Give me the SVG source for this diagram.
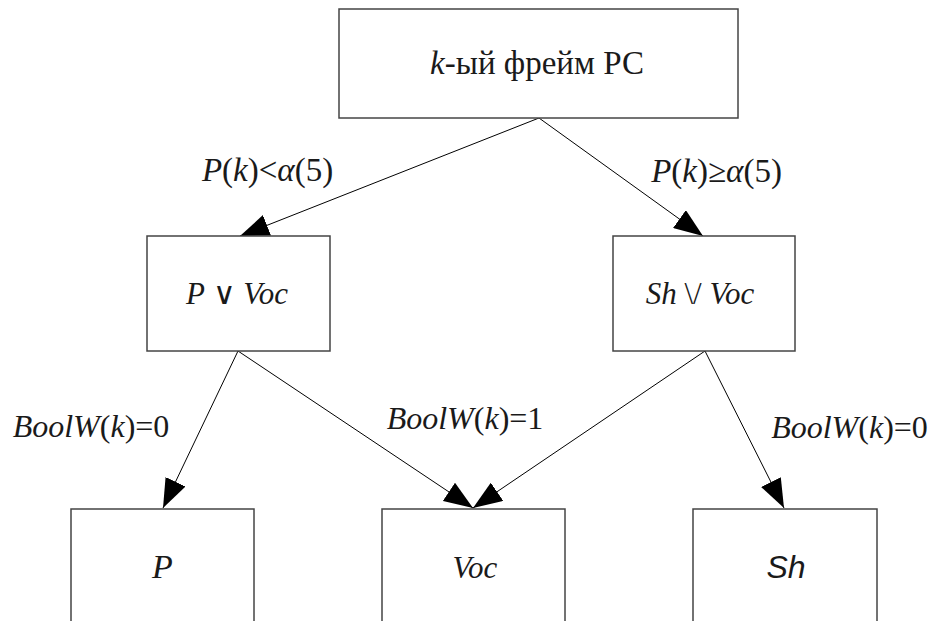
<svg xmlns="http://www.w3.org/2000/svg" width="935" height="621" viewBox="0 0 935 621">
<defs>
<marker id="ah" markerUnits="userSpaceOnUse" markerWidth="30" markerHeight="22" refX="29" refY="11" orient="auto">
<path d="M0,0 L29,11 L0,22 Z" fill="#000"/>
</marker>
</defs>
<rect width="935" height="621" fill="#fff"/>
<g id="connectors" stroke="#000" stroke-width="1" fill="none">
<line x1="539" y1="118" x2="240" y2="236" marker-end="url(#ah)"/>
<line x1="539" y1="118" x2="703" y2="236" marker-end="url(#ah)"/>
<line x1="238" y1="351" x2="163" y2="508" marker-end="url(#ah)"/>
<line x1="238" y1="351" x2="473" y2="508" marker-end="url(#ah)"/>
<line x1="705" y1="351" x2="473" y2="508" marker-end="url(#ah)"/>
<line x1="705" y1="351" x2="784" y2="508" marker-end="url(#ah)"/>
</g>
<g id="labels" fill="#1a1a1a">
<text x="267.5" y="181" text-anchor="middle" font-size="33" font-family="'Liberation Serif'"><tspan font-style="italic">P</tspan>(<tspan font-style="italic">k</tspan>)&lt;<tspan font-style="italic">α</tspan>(5)</text>
<text x="716.5" y="182" text-anchor="middle" font-size="33" font-family="'Liberation Serif'"><tspan font-style="italic">P</tspan>(<tspan font-style="italic">k</tspan>)≥<tspan font-style="italic">α</tspan>(5)</text>
<text x="91" y="437" text-anchor="middle" font-size="32" font-family="'Liberation Serif'"><tspan font-style="italic">BoolW</tspan>(<tspan font-style="italic">k</tspan>)=0</text>
<text x="465" y="429" text-anchor="middle" font-size="32" font-family="'Liberation Serif'"><tspan font-style="italic">BoolW</tspan>(<tspan font-style="italic">k</tspan>)=1</text>
<text x="849.5" y="438" text-anchor="middle" font-size="32" font-family="'Liberation Serif'"><tspan font-style="italic">BoolW</tspan>(<tspan font-style="italic">k</tspan>)=0</text>
</g>
<g id="node-top">
<rect x="339" y="9" width="399" height="109" fill="#fff" stroke="#444" stroke-width="1.5"/>
<text x="537" y="74" text-anchor="middle" font-size="33" fill="#1a1a1a" font-family="'Liberation Serif'"><tspan font-style="italic">k</tspan>-ый фрейм РС</text>
</g>
<g id="node-pvoc">
<rect x="147" y="236" width="183" height="115" fill="#fff" stroke="#444" stroke-width="1.5"/>
<text x="237" y="304" text-anchor="middle" font-size="31" fill="#1a1a1a" font-family="'Liberation Serif'"><tspan font-style="italic">P</tspan> ∨ <tspan font-style="italic">Voc</tspan></text>
</g>
<g id="node-shvoc">
<rect x="613" y="236" width="182" height="115" fill="#fff" stroke="#444" stroke-width="1.5"/>
<text x="700" y="304" text-anchor="middle" font-size="31" fill="#1a1a1a" font-family="'Liberation Serif'"><tspan font-style="italic">Sh</tspan> \/ <tspan font-style="italic">Voc</tspan></text>
</g>
<g id="node-p">
<rect x="71" y="509" width="183" height="130" fill="#fff" stroke="#444" stroke-width="1.5"/>
<text x="162.5" y="578" text-anchor="middle" font-size="34" font-style="italic" fill="#1a1a1a" font-family="'Liberation Serif'">P</text>
</g>
<g id="node-voc">
<rect x="382" y="509" width="183" height="130" fill="#fff" stroke="#444" stroke-width="1.5"/>
<text x="475" y="578" text-anchor="middle" font-size="31" font-style="italic" fill="#1a1a1a" font-family="'Liberation Serif'">Voc</text>
</g>
<g id="node-sh">
<rect x="693" y="509" width="184" height="130" fill="#fff" stroke="#444" stroke-width="1.5"/>
<text x="786" y="578" text-anchor="middle" font-size="32" font-style="italic" fill="#1a1a1a" font-family="'Liberation Sans'">Sh</text>
</g>
</svg>
